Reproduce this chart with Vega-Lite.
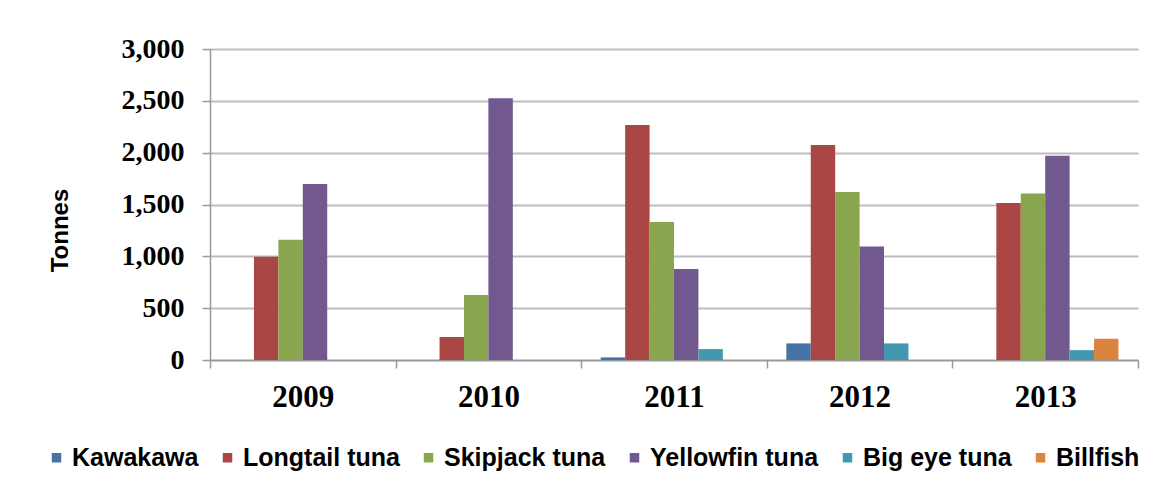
{
  "$schema": "https://vega.github.io/schema/vega-lite/v6.json",
  "width": 928,
  "height": 311,
  "autosize": {"type": "none"},
  "padding": {"left": 210, "top": 49, "right": 29, "bottom": 129},
  "background": "white",
  "data": {
    "values": [
      {"year": "2009", "species": "Kawakawa", "tonnes": 0},
      {"year": "2009", "species": "Longtail tuna", "tonnes": 995},
      {"year": "2009", "species": "Skipjack tuna", "tonnes": 1160},
      {"year": "2009", "species": "Yellowfin tuna", "tonnes": 1697},
      {"year": "2009", "species": "Big eye tuna", "tonnes": 0},
      {"year": "2009", "species": "Billfish", "tonnes": 0},
      {"year": "2010", "species": "Kawakawa", "tonnes": 0},
      {"year": "2010", "species": "Longtail tuna", "tonnes": 222},
      {"year": "2010", "species": "Skipjack tuna", "tonnes": 628},
      {"year": "2010", "species": "Yellowfin tuna", "tonnes": 2525},
      {"year": "2010", "species": "Big eye tuna", "tonnes": 0},
      {"year": "2010", "species": "Billfish", "tonnes": 0},
      {"year": "2011", "species": "Kawakawa", "tonnes": 25},
      {"year": "2011", "species": "Longtail tuna", "tonnes": 2268},
      {"year": "2011", "species": "Skipjack tuna", "tonnes": 1332},
      {"year": "2011", "species": "Yellowfin tuna", "tonnes": 878},
      {"year": "2011", "species": "Big eye tuna", "tonnes": 105},
      {"year": "2011", "species": "Billfish", "tonnes": 0},
      {"year": "2012", "species": "Kawakawa", "tonnes": 160},
      {"year": "2012", "species": "Longtail tuna", "tonnes": 2073},
      {"year": "2012", "species": "Skipjack tuna", "tonnes": 1620},
      {"year": "2012", "species": "Yellowfin tuna", "tonnes": 1095},
      {"year": "2012", "species": "Big eye tuna", "tonnes": 160},
      {"year": "2012", "species": "Billfish", "tonnes": 0},
      {"year": "2013", "species": "Kawakawa", "tonnes": 0},
      {"year": "2013", "species": "Longtail tuna", "tonnes": 1515},
      {"year": "2013", "species": "Skipjack tuna", "tonnes": 1605},
      {"year": "2013", "species": "Yellowfin tuna", "tonnes": 1970},
      {"year": "2013", "species": "Big eye tuna", "tonnes": 95},
      {"year": "2013", "species": "Billfish", "tonnes": 205}
    ]
  },
  "mark": {"type": "bar"},
  "encoding": {
    "x": {
      "field": "year",
      "type": "nominal",
      "scale": {"paddingInner": 0, "paddingOuter": 0},
      "axis": {
        "title": null,
        "labelAngle": 0,
        "labelFont": "Liberation Serif",
        "labelFontWeight": "bold",
        "labelFontSize": 31,
        "labelColor": "black",
        "labelPadding": 14,
        "tickBand": "extent",
        "tickSize": 8,
        "tickColor": "#999999",
        "domainColor": "#999999",
        "domainWidth": 1.5,
        "tickWidth": 1.5
      }
    },
    "xOffset": {
      "field": "species",
      "type": "nominal",
      "sort": ["Kawakawa", "Longtail tuna", "Skipjack tuna", "Yellowfin tuna", "Big eye tuna", "Billfish"],
      "scale": {"paddingInner": 0, "paddingOuter": 0.8}
    },
    "y": {
      "field": "tonnes",
      "type": "quantitative",
      "scale": {"domain": [0, 3000], "nice": false},
      "axis": {
        "title": "Tonnes",
        "titleFont": "Liberation Sans",
        "titleFontWeight": "bold",
        "titleFontSize": 24,
        "titleColor": "black",
        "titleAngle": -90,
        "titleX": -150,
        "titleY": 181,
        "titleAlign": "center",
        "titleBaseline": "middle",
        "values": [0, 500, 1000, 1500, 2000, 2500, 3000],
        "format": ",.0f",
        "labelFont": "Liberation Serif",
        "labelFontWeight": "bold",
        "labelFontSize": 28,
        "labelColor": "black",
        "labelPadding": 18,
        "tickSize": 8,
        "tickColor": "#999999",
        "tickWidth": 1.5,
        "domainColor": "#999999",
        "domainWidth": 1.5,
        "grid": true,
        "gridColor": "#bdbdbd",
        "gridWidth": 2
      }
    },
    "color": {
      "field": "species",
      "type": "nominal",
      "sort": ["Kawakawa", "Longtail tuna", "Skipjack tuna", "Yellowfin tuna", "Big eye tuna", "Billfish"],
      "scale": {
        "domain": ["Kawakawa", "Longtail tuna", "Skipjack tuna", "Yellowfin tuna", "Big eye tuna", "Billfish"],
        "range": ["#4572A7", "#AA4643", "#89A54E", "#71588F", "#4198AF", "#DB843D"]
      },
      "legend": {
        "title": null,
        "orient": "none",
        "direction": "horizontal",
        "legendX": -166,
        "legendY": 396,
        "symbolType": "square",
        "symbolSize": 90,
        "symbolStrokeWidth": 0,
        "labelFont": "Liberation Sans",
        "labelFontWeight": "bold",
        "labelFontSize": 25,
        "labelColor": "black",
        "labelOffset": 3,
        "columnPadding": 16,
        "labelLimit": 300
      }
    }
  },
  "config": {
    "view": {"stroke": null}
  }
}
